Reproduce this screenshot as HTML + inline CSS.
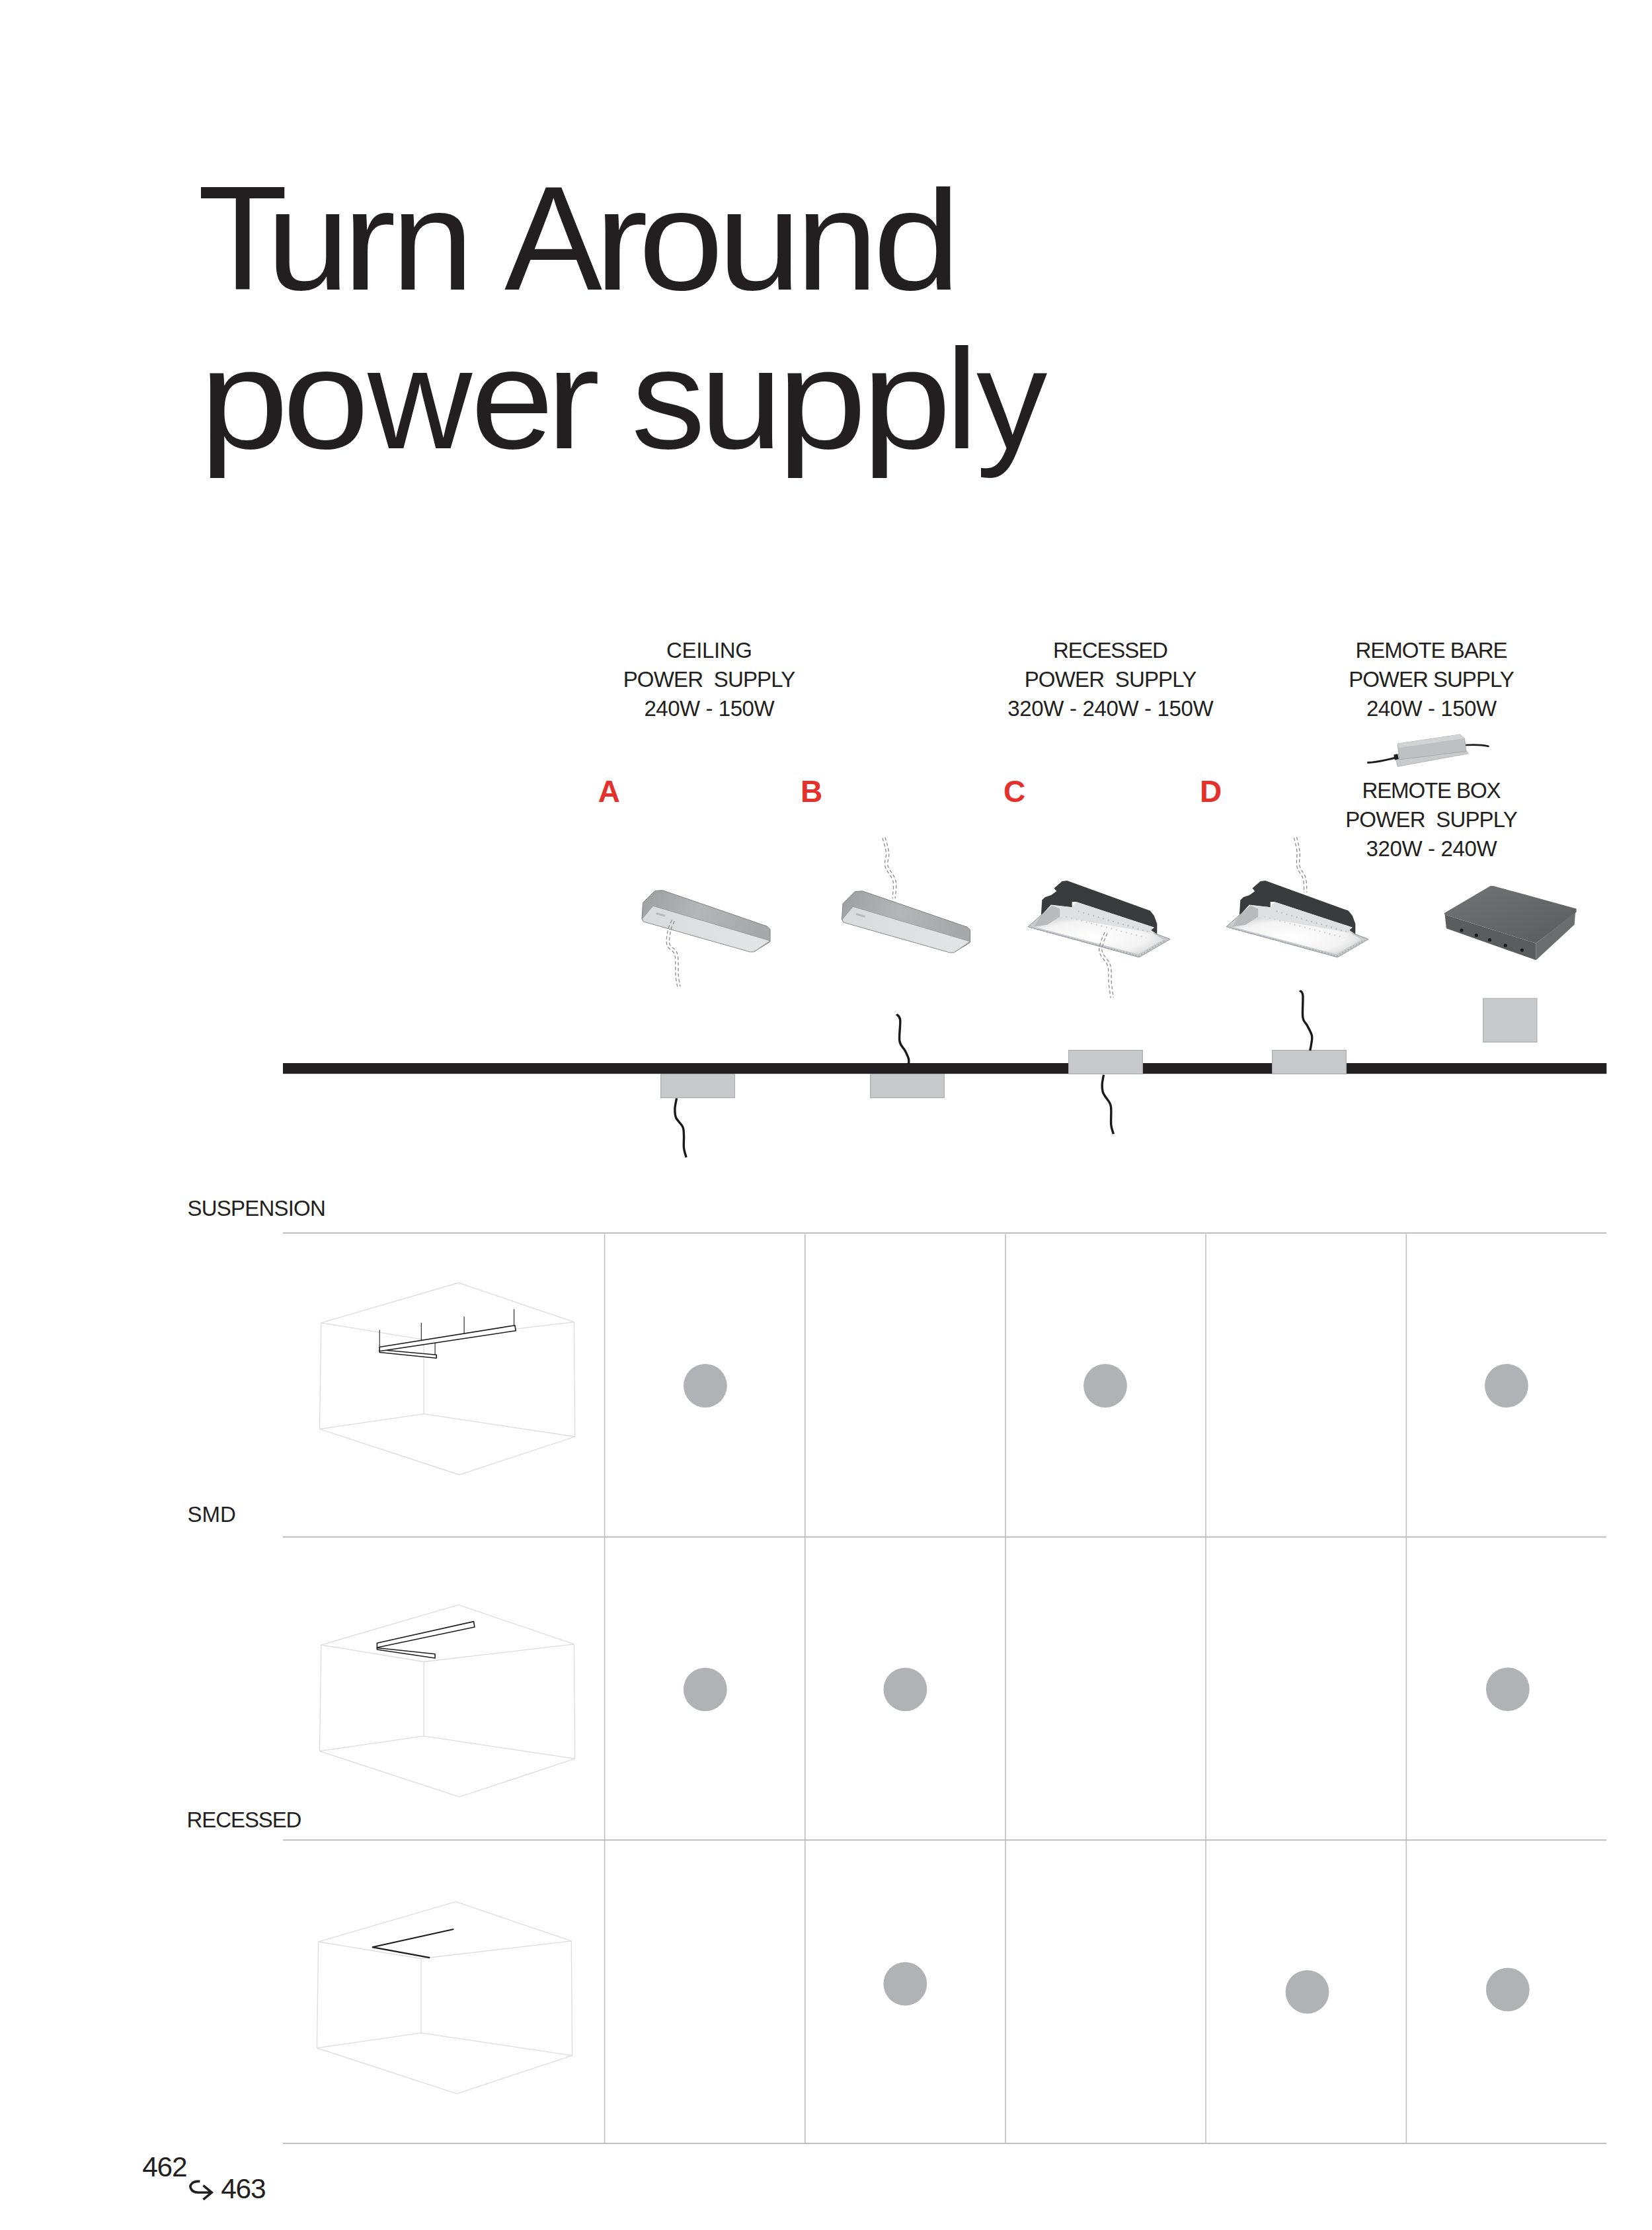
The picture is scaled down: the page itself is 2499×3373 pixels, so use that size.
<!DOCTYPE html>
<html><head><meta charset="utf-8"><style>
html,body{margin:0;padding:0;background:#fff;width:2499px;height:3373px;overflow:hidden;position:relative}
.t{position:absolute;font-family:"Liberation Sans",sans-serif;line-height:1;white-space:nowrap;color:#231f20}
.c{text-align:center}
.r{color:#e4312b;font-weight:bold}
svg{position:absolute;left:0;top:0}
</style></head><body>
<svg width="2499" height="3373" viewBox="0 0 2499 3373">
<rect x="428" y="1864" width="2002" height="2" fill="#bdbec1"/>
<rect x="428" y="2323.7" width="2002" height="2" fill="#bdbec1"/>
<rect x="428" y="2782.2" width="2002" height="2" fill="#bdbec1"/>
<rect x="428" y="3241" width="2002" height="2" fill="#bdbec1"/>
<rect x="913.8000000000001" y="1866.5" width="1.6" height="1375" fill="#bdbec1"/>
<rect x="1217.0" y="1866.5" width="1.6" height="1375" fill="#bdbec1"/>
<rect x="1520.2" y="1866.5" width="1.6" height="1375" fill="#bdbec1"/>
<rect x="1823.2" y="1866.5" width="1.6" height="1375" fill="#bdbec1"/>
<rect x="2126.5" y="1866.5" width="1.6" height="1375" fill="#bdbec1"/>
<circle cx="1066.9" cy="2096" r="32.9" fill="#b1b2b5"/>
<circle cx="1672" cy="2096" r="32.9" fill="#b1b2b5"/>
<circle cx="2278.9" cy="2096" r="32.9" fill="#b1b2b5"/>
<circle cx="1066.8" cy="2555.3" r="32.9" fill="#b1b2b5"/>
<circle cx="1369.4" cy="2555.3" r="32.9" fill="#b1b2b5"/>
<circle cx="2280.8" cy="2555.1" r="32.9" fill="#b1b2b5"/>
<circle cx="1369.3" cy="3000.7" r="32.9" fill="#b1b2b5"/>
<circle cx="1977.5" cy="3012.8" r="32.9" fill="#b1b2b5"/>
<circle cx="2280.8" cy="3009.4" r="32.9" fill="#b1b2b5"/>
<g transform="translate(0,0)"><path d="M485.8,2000.8 L693.7,1940.3 L868.4,1999.6 M485.8,2000.8 L641.1,2026.3 L868.4,1999.6 M485.8,2000.8 L483.5,2161.5 M868.4,1999.6 L869.7,2173 M641.1,2026.3 L641.1,2138.6 M483.5,2161.5 L641.1,2138.6 L869.7,2173 M483.5,2161.5 L695,2230.7 L869.7,2173" fill="none" stroke="#dcdcdc" stroke-width="1.3"/><g stroke="#1e1e1e" stroke-width="1.1"><line x1="574.2" y1="2011.5" x2="574.2" y2="2039"/><line x1="637.3" y1="2000.8" x2="637.3" y2="2030"/><line x1="702.1" y1="1991.2" x2="702.1" y2="2019"/><line x1="777.6" y1="1980.3" x2="777.6" y2="2005.5"/><line x1="658.1" y1="2031.9" x2="658.1" y2="2050"/></g><g fill="#fff" stroke="#1e1e1e" stroke-width="1.6" stroke-linejoin="round"><polygon points="574.2,2041.5 660.2,2049.2 660.2,2054.2 574.2,2045.5"/><polygon points="574.2,2037.5 778.9,2004.7 780.2,2012.8 574.2,2043.8"/></g></g>
<g transform="translate(0,487.2)"><path d="M485.8,2000.8 L693.7,1940.3 L868.4,1999.6 M485.8,2000.8 L641.1,2026.3 L868.4,1999.6 M485.8,2000.8 L483.5,2161.5 M868.4,1999.6 L869.7,2173 M641.1,2026.3 L641.1,2138.6 M483.5,2161.5 L641.1,2138.6 L869.7,2173 M483.5,2161.5 L695,2230.7 L869.7,2173" fill="none" stroke="#dcdcdc" stroke-width="1.3"/><g fill="#fff" stroke="#1e1e1e" stroke-width="1.6" stroke-linejoin="round"><polygon points="570.4,2005.3 658.1,2014.5 658.1,2020.8 570.4,2007.8"/><polygon points="570.4,1998 716.6,1965.4 717.9,1973.8 570.4,2004.8"/></g></g>
<g transform="translate(-4.1,936.2)"><path d="M485.8,2000.8 L693.7,1940.3 L868.4,1999.6 M485.8,2000.8 L641.1,2026.3 L868.4,1999.6 M485.8,2000.8 L483.5,2161.5 M868.4,1999.6 L869.7,2173 M641.1,2026.3 L641.1,2138.6 M483.5,2161.5 L641.1,2138.6 L869.7,2173 M483.5,2161.5 L695,2230.7 L869.7,2173" fill="none" stroke="#dcdcdc" stroke-width="1.3"/><polyline points="690.4,1981.8 567.1,2009 654.3,2025" fill="none" stroke="#1e1e1e" stroke-width="2.2" stroke-linejoin="miter"/></g>
<rect x="428" y="1608" width="2002.3" height="16.2" fill="#222020"/>
<rect x="999.6" y="1624.6" width="111.8" height="35.8" fill="#c8c9cb" stroke="#adaeb1" stroke-width="1.2"/>
<rect x="1316.6" y="1624.6" width="111.8" height="35.8" fill="#c8c9cb" stroke="#adaeb1" stroke-width="1.2"/>
<rect x="1616.6" y="1588.6" width="111.8" height="35.8" fill="#c8c9cb" stroke="#adaeb1" stroke-width="1.2"/>
<rect x="1924.6" y="1588.6" width="111.8" height="35.8" fill="#c8c9cb" stroke="#adaeb1" stroke-width="1.2"/>
<rect x="2243.7" y="1510.1999999999998" width="81.20000000000009" height="66.00000000000004" fill="#c8c9cb" stroke="#adaeb1" stroke-width="1.2"/>
<path d="M1023.6,1661.3 C1023.1,1664.0 1021.0,1672.3 1020.9,1677.2 C1020.8,1682.1 1020.7,1686.3 1022.7,1690.8 C1024.7,1695.3 1030.7,1699.9 1032.7,1704.4 C1034.7,1708.9 1034.2,1712.7 1034.5,1718.0 C1034.8,1723.3 1033.9,1730.8 1034.5,1736.2 C1035.1,1741.7 1037.5,1748.3 1038.1,1750.7" fill="none" stroke="#1a1a1a" stroke-width="3.4" stroke-linecap="butt"/>
<path d="M1356.3,1534.1 C1357.2,1535.5 1361.0,1536.0 1361.7,1542.7 C1362.5,1549.4 1359.6,1566.8 1360.8,1574.5 C1362.0,1582.2 1366.7,1584.5 1369.0,1589.0 C1371.3,1593.5 1373.6,1598.4 1374.5,1601.7 C1375.4,1605.0 1374.5,1607.8 1374.5,1609.0" fill="none" stroke="#1a1a1a" stroke-width="3.4" stroke-linecap="butt"/>
<path d="M1669.5,1625.8 C1669.1,1628.3 1667.3,1636.2 1667.2,1640.8 C1667.1,1645.4 1667.0,1648.8 1669.0,1653.5 C1671.0,1658.2 1677.0,1664.8 1679.0,1669.0 C1681.0,1673.2 1680.5,1673.5 1680.8,1679.0 C1681.1,1684.5 1680.2,1695.7 1680.8,1701.7 C1681.4,1707.8 1683.8,1713.0 1684.4,1715.3" fill="none" stroke="#1a1a1a" stroke-width="3.4" stroke-linecap="butt"/>
<path d="M1966.3,1498.2 C1967.0,1499.4 1970.0,1498.6 1970.8,1505.4 C1971.5,1512.2 1969.7,1531.4 1970.8,1539.0 C1971.9,1546.6 1974.9,1546.2 1977.2,1550.8 C1979.5,1555.3 1983.4,1561.4 1984.4,1566.3 C1985.5,1571.2 1984.0,1576.1 1983.5,1579.9 C1983.0,1583.7 1982.0,1587.5 1981.7,1589.0" fill="none" stroke="#1a1a1a" stroke-width="3.4" stroke-linecap="butt"/>
<defs><linearGradient id="gA" x1="0" y1="0" x2="1" y2="0.3"><stop offset="0" stop-color="#9c9ea0"/><stop offset="0.5" stop-color="#b4b5b6"/><stop offset="1" stop-color="#a7a8aa"/></linearGradient><linearGradient id="gL" x1="0" y1="0" x2="1" y2="0"><stop offset="0" stop-color="#d9dadc"/><stop offset="1" stop-color="#e4e5e6"/></linearGradient><linearGradient id="gBox" x1="0" y1="0" x2="1" y2="1"><stop offset="0" stop-color="#737476"/><stop offset="1" stop-color="#5a5b5d"/></linearGradient><radialGradient id="gW" cx="0.45" cy="0.55" r="0.6"><stop offset="0" stop-color="#ffffff"/><stop offset="0.7" stop-color="#f3f3f3"/><stop offset="1" stop-color="#d6d7d9"/></radialGradient></defs>
<g transform="translate(0,0)"><polygon points="990.7,1347.4 1002.3,1346.7 1160.7,1401.2 1165.0,1405.5 1165.0,1424.4 1140.3,1439.7 1134.5,1439.7 973.2,1393.9 971.0,1389.6 972.5,1365.6" fill="url(#gA)" stroke="#7d8085" stroke-width="1"/><polygon points="971.5,1389.6 987.8,1370.2 1165.0,1423.0 1140.3,1439.7 1134.5,1439.7 973.2,1393.9" fill="url(#gL)" stroke="#8e9196" stroke-width="0.8"/><rect x="993" y="1380" width="14" height="3" fill="#b9b9b9" transform="rotate(16 993 1380)"/></g>
<polyline points="1020.2,1393.3 1019.9,1394.0 1019.5,1394.9 1019.0,1395.9 1018.5,1396.9 1018.0,1398.0 1017.4,1399.3 1016.8,1400.5 1016.3,1401.9 1015.8,1403.2 1015.3,1404.6 1014.9,1406.0 1014.6,1407.4 1014.2,1409.0 1013.9,1410.7 1013.6,1412.5 1013.3,1414.3 1013.0,1416.2 1012.8,1418.1 1012.6,1420.0 1012.5,1421.9 1012.5,1423.7 1012.5,1425.3 1012.7,1426.9 1013.0,1428.2 1013.4,1429.3 1014.0,1430.2 1014.7,1431.1 1015.7,1432.0 1016.7,1432.8 1017.9,1433.8 1019.2,1434.8 1020.5,1435.9 1021.7,1437.3 1022.9,1438.8 1023.9,1440.6 1024.6,1442.7 1025.1,1445.0 1025.5,1447.5 1025.7,1450.3 1025.9,1453.1 1026.0,1456.1 1026.0,1459.1 1026.0,1462.1 1026.0,1465.1 1026.0,1467.9 1026.0,1470.6 1026.1,1473.0 1026.2,1475.1 1026.4,1477.1 1026.6,1479.0 1026.9,1480.8 1027.1,1482.5 1027.4,1484.1 1027.7,1485.6 1028.0,1487.0 1028.3,1488.3 1028.5,1489.5 1028.7,1490.6 1028.9,1491.5 1029.1,1492.3" fill="none" stroke="#8a8a8a" stroke-width="1.3" stroke-dasharray="5 3.5"/><polyline points="1016.4,1391.7 1016.1,1392.3 1015.7,1393.1 1015.3,1394.0 1014.8,1395.1 1014.2,1396.2 1013.6,1397.5 1013.0,1398.9 1012.4,1400.3 1011.8,1401.8 1011.3,1403.4 1010.8,1405.0 1010.4,1406.6 1010.1,1408.2 1009.8,1409.9 1009.4,1411.7 1009.1,1413.7 1008.8,1415.7 1008.6,1417.7 1008.4,1419.7 1008.3,1421.7 1008.3,1423.7 1008.3,1425.7 1008.6,1427.6 1009.0,1429.4 1009.7,1431.1 1010.6,1432.7 1011.7,1434.0 1012.9,1435.1 1014.1,1436.1 1015.3,1437.1 1016.5,1438.0 1017.5,1438.9 1018.5,1440.0 1019.3,1441.1 1020.0,1442.4 1020.6,1443.9 1021.0,1445.8 1021.3,1448.0 1021.6,1450.6 1021.7,1453.3 1021.8,1456.2 1021.8,1459.1 1021.8,1462.1 1021.8,1465.1 1021.8,1467.9 1021.8,1470.6 1021.9,1473.2 1022.0,1475.5 1022.2,1477.5 1022.5,1479.5 1022.7,1481.4 1023.0,1483.2 1023.3,1484.8 1023.6,1486.4 1023.9,1487.8 1024.1,1489.2 1024.4,1490.3 1024.6,1491.4 1024.8,1492.3 1024.9,1493.1" fill="none" stroke="#8a8a8a" stroke-width="1.3" stroke-dasharray="5 3.5"/>
<g transform="translate(302.5,1.1)"><polygon points="990.7,1347.4 1002.3,1346.7 1160.7,1401.2 1165.0,1405.5 1165.0,1424.4 1140.3,1439.7 1134.5,1439.7 973.2,1393.9 971.0,1389.6 972.5,1365.6" fill="url(#gA)" stroke="#7d8085" stroke-width="1"/><polygon points="971.5,1389.6 987.8,1370.2 1165.0,1423.0 1140.3,1439.7 1134.5,1439.7 973.2,1393.9" fill="url(#gL)" stroke="#8e9196" stroke-width="0.8"/><rect x="993" y="1380" width="14" height="3" fill="#b9b9b9" transform="rotate(16 993 1380)"/></g>
<polyline points="1339.0,1266.5 1339.3,1267.6 1339.7,1269.0 1340.2,1270.6 1340.7,1272.5 1341.3,1274.5 1341.9,1276.7 1342.5,1278.9 1343.1,1281.2 1343.6,1283.5 1344.1,1285.7 1344.4,1287.8 1344.7,1289.8 1344.8,1291.8 1344.7,1293.7 1344.5,1295.5 1344.2,1297.2 1343.8,1298.9 1343.5,1300.5 1343.1,1302.0 1342.9,1303.5 1342.7,1305.0 1342.7,1306.5 1342.8,1308.0 1343.0,1309.5 1343.5,1311.0 1344.2,1312.6 1345.2,1314.3 1346.2,1316.1 1347.4,1317.9 1348.7,1319.7 1350.0,1321.6 1351.2,1323.6 1352.4,1325.6 1353.5,1327.7 1354.4,1329.9 1355.0,1332.1 1355.5,1334.5 1355.7,1337.0 1355.7,1339.5 1355.7,1342.2 1355.5,1344.8 1355.3,1347.4 1355.1,1349.9 1354.8,1352.3 1354.6,1354.4 1354.3,1356.3 1354.2,1357.9 1354.1,1359.1" fill="none" stroke="#8a8a8a" stroke-width="1.3" stroke-dasharray="5 3.5"/><polyline points="1335.0,1267.5 1335.3,1268.7 1335.7,1270.1 1336.2,1271.8 1336.7,1273.7 1337.3,1275.7 1337.9,1277.8 1338.5,1280.0 1339.0,1282.2 1339.5,1284.4 1340.0,1286.5 1340.3,1288.4 1340.5,1290.2 1340.6,1291.8 1340.5,1293.3 1340.3,1294.8 1340.0,1296.4 1339.7,1298.0 1339.3,1299.6 1339.0,1301.2 1338.7,1303.0 1338.5,1304.7 1338.5,1306.6 1338.6,1308.5 1339.0,1310.5 1339.6,1312.5 1340.5,1314.5 1341.5,1316.4 1342.7,1318.3 1344.0,1320.2 1345.2,1322.1 1346.5,1323.9 1347.7,1325.8 1348.8,1327.6 1349.7,1329.5 1350.4,1331.3 1351.0,1333.1 1351.3,1335.0 1351.5,1337.2 1351.5,1339.6 1351.5,1342.0 1351.4,1344.5 1351.2,1347.0 1350.9,1349.5 1350.7,1351.8 1350.4,1353.9 1350.2,1355.9 1350.0,1357.5 1349.9,1358.9" fill="none" stroke="#8a8a8a" stroke-width="1.3" stroke-dasharray="5 3.5"/>
<g transform="translate(0,0)"><polygon points="1574.8,1385.1 1576.3,1361.6 1580.9,1357.1 1589.9,1354.0 1598.3,1348.0 1594.5,1343.5 1606.6,1332.9 1614.2,1332.1 1739.8,1377.5 1745.8,1385.1 1750.3,1397.2 1750.3,1413.1 1741.3,1410.8 1741.3,1406.3 1745.8,1403.2 1627.8,1363.9 1621.7,1363.9 1621.7,1372.2 1589.9,1368.4" fill="#3a3b3d"/><polygon points="1555.1,1401.7 1575.6,1383.6 1600.5,1391.1 1750.3,1413.1 1770.0,1420.6 1723.1,1447.9" fill="#c9cbce" stroke="#8d9196" stroke-width="1"/><polygon points="1564.2,1401.7 1583.9,1398.7 1603.6,1386.6 1741.3,1409.3 1759.4,1421.4 1721.6,1443.3" fill="url(#gW)"/><polygon points="1564.2,1401.7 1575.6,1383.6 1591.5,1369.2 1603.6,1374.5 1603.6,1386.6 1583.9,1398.7" fill="#b9babc"/><polygon points="1591.5,1369.2 1621.7,1372.2 1627.8,1363.9 1745.8,1402.5 1741.3,1407.0 1750.3,1413.1 1741.3,1410.8 1603.6,1386.6 1603.6,1374.5" fill="#dfe0e1"/><polyline points="1559.7,1403.5 1722.4,1445.9 1764.0,1421.7" fill="none" stroke="#a3a8ad" stroke-width="2" stroke-dasharray="1.6 3.2"/><polyline points="1630.8,1378.3 1736.7,1409.3" fill="none" stroke="#b5b7b9" stroke-width="2.2" stroke-dasharray="1.8 6"/><polyline points="1612.6,1386.6 1733.7,1418.4" fill="none" stroke="#c9cacb" stroke-width="2" stroke-dasharray="1.8 6"/></g>
<polyline points="1675.1,1411.6 1674.8,1412.4 1674.4,1413.3 1673.9,1414.4 1673.3,1415.6 1672.7,1416.9 1672.1,1418.3 1671.5,1419.7 1670.9,1421.2 1670.3,1422.6 1669.8,1424.0 1669.4,1425.3 1669.0,1426.6 1668.7,1427.8 1668.4,1429.0 1668.0,1430.2 1667.7,1431.4 1667.4,1432.5 1667.2,1433.6 1667.1,1434.7 1667.0,1435.7 1667.0,1436.8 1667.1,1438.0 1667.3,1439.1 1667.6,1440.3 1668.1,1441.6 1668.8,1442.9 1669.7,1444.3 1670.7,1445.7 1671.9,1447.3 1673.1,1448.9 1674.4,1450.6 1675.7,1452.3 1676.9,1454.1 1678.0,1456.0 1679.0,1458.0 1679.7,1460.1 1680.2,1462.2 1680.6,1464.4 1680.9,1466.6 1681.0,1468.9 1681.1,1471.1 1681.1,1473.4 1681.1,1475.7 1681.1,1477.9 1681.1,1480.1 1681.1,1482.3 1681.1,1484.3 1681.3,1486.3 1681.5,1488.3 1681.7,1490.5 1682.0,1492.7 1682.3,1494.9 1682.6,1497.0 1682.9,1499.2 1683.2,1501.2 1683.5,1503.1 1683.8,1504.9 1684.0,1506.5 1684.2,1507.8 1684.4,1508.9" fill="none" stroke="#8a8a8a" stroke-width="1.3" stroke-dasharray="5 3.5"/><polyline points="1671.3,1410.0 1671.0,1410.7 1670.6,1411.6 1670.1,1412.7 1669.5,1413.9 1668.9,1415.2 1668.3,1416.6 1667.6,1418.1 1667.0,1419.6 1666.4,1421.1 1665.8,1422.6 1665.4,1424.1 1665.0,1425.4 1664.6,1426.7 1664.3,1427.9 1664.0,1429.1 1663.6,1430.3 1663.3,1431.6 1663.1,1432.9 1662.9,1434.2 1662.8,1435.6 1662.8,1437.0 1662.9,1438.5 1663.2,1440.0 1663.6,1441.7 1664.3,1443.3 1665.1,1445.0 1666.2,1446.6 1667.3,1448.2 1668.6,1449.8 1669.8,1451.5 1671.0,1453.1 1672.2,1454.7 1673.3,1456.3 1674.3,1458.0 1675.1,1459.6 1675.7,1461.3 1676.1,1463.1 1676.5,1465.0 1676.7,1467.0 1676.8,1469.1 1676.9,1471.2 1676.9,1473.4 1676.9,1475.6 1676.9,1477.9 1676.9,1480.1 1676.9,1482.4 1677.0,1484.5 1677.1,1486.7 1677.3,1488.8 1677.6,1491.0 1677.9,1493.2 1678.1,1495.4 1678.5,1497.6 1678.8,1499.8 1679.1,1501.8 1679.4,1503.7 1679.6,1505.5 1679.9,1507.1 1680.1,1508.4 1680.2,1509.5" fill="none" stroke="#8a8a8a" stroke-width="1.3" stroke-dasharray="5 3.5"/>
<g transform="translate(300,0)"><polygon points="1574.8,1385.1 1576.3,1361.6 1580.9,1357.1 1589.9,1354.0 1598.3,1348.0 1594.5,1343.5 1606.6,1332.9 1614.2,1332.1 1739.8,1377.5 1745.8,1385.1 1750.3,1397.2 1750.3,1413.1 1741.3,1410.8 1741.3,1406.3 1745.8,1403.2 1627.8,1363.9 1621.7,1363.9 1621.7,1372.2 1589.9,1368.4" fill="#3a3b3d"/><polygon points="1555.1,1401.7 1575.6,1383.6 1600.5,1391.1 1750.3,1413.1 1770.0,1420.6 1723.1,1447.9" fill="#c9cbce" stroke="#8d9196" stroke-width="1"/><polygon points="1564.2,1401.7 1583.9,1398.7 1603.6,1386.6 1741.3,1409.3 1759.4,1421.4 1721.6,1443.3" fill="url(#gW)"/><polygon points="1564.2,1401.7 1575.6,1383.6 1591.5,1369.2 1603.6,1374.5 1603.6,1386.6 1583.9,1398.7" fill="#b9babc"/><polygon points="1591.5,1369.2 1621.7,1372.2 1627.8,1363.9 1745.8,1402.5 1741.3,1407.0 1750.3,1413.1 1741.3,1410.8 1603.6,1386.6 1603.6,1374.5" fill="#dfe0e1"/><polyline points="1559.7,1403.5 1722.4,1445.9 1764.0,1421.7" fill="none" stroke="#a3a8ad" stroke-width="2" stroke-dasharray="1.6 3.2"/><polyline points="1630.8,1378.3 1736.7,1409.3" fill="none" stroke="#b5b7b9" stroke-width="2.2" stroke-dasharray="1.8 6"/><polyline points="1612.6,1386.6 1733.7,1418.4" fill="none" stroke="#c9cacb" stroke-width="2" stroke-dasharray="1.8 6"/></g>
<polyline points="1961.5,1266.1 1961.8,1267.1 1962.1,1268.4 1962.5,1269.9 1962.9,1271.5 1963.3,1273.4 1963.8,1275.3 1964.3,1277.3 1964.7,1279.4 1965.1,1281.5 1965.5,1283.6 1965.8,1285.6 1966.1,1287.6 1966.2,1289.6 1966.3,1291.6 1966.2,1293.6 1966.1,1295.6 1965.9,1297.5 1965.8,1299.5 1965.7,1301.4 1965.6,1303.3 1965.6,1305.1 1965.6,1306.8 1965.8,1308.5 1966.0,1310.0 1966.5,1311.5 1967.0,1312.9 1967.7,1314.3 1968.5,1315.7 1969.3,1317.1 1970.3,1318.5 1971.2,1320.0 1972.2,1321.5 1973.1,1323.0 1973.9,1324.6 1974.6,1326.3 1975.2,1328.1 1975.7,1330.0 1976.0,1332.0 1976.2,1334.1 1976.4,1336.2 1976.5,1338.3 1976.6,1340.4 1976.7,1342.4 1976.7,1344.3 1976.7,1346.0 1976.7,1347.5 1976.8,1348.8 1976.8,1349.8" fill="none" stroke="#8a8a8a" stroke-width="1.3" stroke-dasharray="5 3.5"/><polyline points="1957.5,1267.1 1957.7,1268.1 1958.0,1269.4 1958.4,1270.9 1958.8,1272.5 1959.2,1274.4 1959.7,1276.3 1960.2,1278.2 1960.6,1280.3 1961.0,1282.3 1961.4,1284.3 1961.7,1286.2 1961.9,1288.0 1962.0,1289.7 1962.1,1291.5 1962.0,1293.4 1961.9,1295.3 1961.8,1297.2 1961.6,1299.2 1961.5,1301.2 1961.4,1303.1 1961.4,1305.1 1961.4,1307.1 1961.6,1309.0 1962.0,1311.0 1962.5,1312.8 1963.2,1314.6 1964.0,1316.3 1964.9,1317.9 1965.8,1319.4 1966.7,1320.8 1967.7,1322.3 1968.6,1323.7 1969.4,1325.1 1970.1,1326.4 1970.7,1327.8 1971.2,1329.3 1971.5,1330.8 1971.8,1332.6 1972.1,1334.5 1972.2,1336.5 1972.3,1338.5 1972.4,1340.5 1972.5,1342.5 1972.5,1344.3 1972.5,1346.0 1972.5,1347.6 1972.6,1348.9 1972.6,1350.0" fill="none" stroke="#8a8a8a" stroke-width="1.3" stroke-dasharray="5 3.5"/>
<polygon points="2184.5,1381.3 2254.6,1340 2259.2,1340 2384.6,1374.4 2384.6,1379.6 2323.6,1426.8 2185.6,1383.6" fill="url(#gBox)"/>
<polygon points="2185.6,1383.6 2323.6,1426.8 2323.6,1452.3 2187.9,1404.3" fill="#5b5c5e"/>
<polygon points="2323.6,1426.8 2383.1,1379.6 2381.7,1398.5 2323.6,1452.3" fill="#6c6d6f"/>
<circle cx="2211" cy="1407" r="2.6" fill="#1c1c1c"/>
<circle cx="2233.3" cy="1414.7" r="2.6" fill="#1c1c1c"/>
<circle cx="2253.5" cy="1421.6" r="2.6" fill="#1c1c1c"/>
<circle cx="2277.2" cy="1430" r="2.6" fill="#1c1c1c"/>
<circle cx="2302.3" cy="1437" r="2.6" fill="#1c1c1c"/>
<path d="M2068.3,1153.6 C2085,1153 2098,1149 2112,1146" fill="none" stroke="#1c1c1c" stroke-width="3"/>
<path d="M2217,1127 C2232,1126 2244,1127 2252.5,1128.9" fill="none" stroke="#1c1c1c" stroke-width="2.6"/>
<polygon points="2109.7,1141 2217.8,1135.2 2221.3,1139.8 2114.3,1159.4" fill="#c9cacc" stroke="#a9abae" stroke-width="0.8"/>
<polygon points="2114.3,1124.9 2208.6,1111 2215.5,1116.8 2217.8,1136.4 2116.6,1149" fill="#bfc0c2" stroke="#a0a2a5" stroke-width="0.8"/>
<polygon points="2114.3,1124.9 2208.6,1111 2215.5,1116.8 2116,1131" fill="#d2d3d4"/>
<rect x="2109" y="1141" width="6" height="8" fill="#1c1c1c" transform="rotate(-12 2112 1145)"/>
<path d="M302.4,3299.5 C290,3298.5 286.5,3306 288.6,3310 C290.5,3315 295,3316.3 300,3316.3 L319.5,3316.3 M307.5,3305.7 L320.3,3316.3 L307.5,3326.8" fill="none" stroke="#231f20" stroke-width="3.6" stroke-linejoin="miter"/>
</svg>
<div class="t" style="left:298.8px;top:247.9px;font-size:225px;transform:scale(0.992,1.0);transform-origin:5px 85%">T</div>
<div class="t" style="left:402.8px;top:247.9px;font-size:225px;transform:scale(1.006,0.96);transform-origin:15px 85%">u</div>
<div class="t" style="left:519.4px;top:247.9px;font-size:225px;transform:scale(1.084,0.96);transform-origin:15px 85%">r</div>
<div class="t" style="left:591.7px;top:247.9px;font-size:225px;transform:scale(0.995,0.96);transform-origin:15px 85%">n</div>
<div class="t" style="left:763.0px;top:247.9px;font-size:225px;transform:scale(0.986,1.0);transform-origin:1px 85%">A</div>
<div class="t" style="left:900.4px;top:247.9px;font-size:225px;transform:scale(1.089,0.96);transform-origin:15px 85%">r</div>
<div class="t" style="left:966.3px;top:247.9px;font-size:225px;transform:scale(1.028,0.96);transform-origin:9px 85%">o</div>
<div class="t" style="left:1086.3px;top:247.9px;font-size:225px;transform:scale(1.005,0.96);transform-origin:15px 85%">u</div>
<div class="t" style="left:1203.6px;top:247.9px;font-size:225px;transform:scale(0.992,0.96);transform-origin:15px 85%">n</div>
<div class="t" style="left:1321.1px;top:247.9px;font-size:225px;transform:scale(1.062,0.96);transform-origin:9px 85%">d</div>
<div class="t" style="left:303.2px;top:488.0px;font-size:225px;transform:scale(1.078,0.96);transform-origin:15px 85%">p</div>
<div class="t" style="left:428.3px;top:488.0px;font-size:225px;transform:scale(1.046,0.96);transform-origin:9px 85%">o</div>
<div class="t" style="left:556.0px;top:488.0px;font-size:225px;transform:scale(0.974,0.96);transform-origin:0px 85%">w</div>
<div class="t" style="left:712.0px;top:488.0px;font-size:225px;transform:scale(1.004,0.96);transform-origin:10px 85%">e</div>
<div class="t" style="left:826.9px;top:488.0px;font-size:225px;transform:scale(1.098,0.96);transform-origin:15px 85%">r</div>
<div class="t" style="left:955.4px;top:488.0px;font-size:225px;transform:scale(0.995,0.96);transform-origin:6px 85%">s</div>
<div class="t" style="left:1058.7px;top:488.0px;font-size:225px;transform:scale(0.995,0.96);transform-origin:15px 85%">u</div>
<div class="t" style="left:1177.4px;top:488.0px;font-size:225px;transform:scale(1.082,0.96);transform-origin:15px 85%">p</div>
<div class="t" style="left:1304.5px;top:488.0px;font-size:225px;transform:scale(1.082,0.96);transform-origin:15px 85%">p</div>
<div class="t" style="left:1430.3px;top:488.0px;font-size:225px;transform:scale(0.975,0.96);transform-origin:15px 85%">l</div>
<div class="t" style="left:1477.4px;top:488.0px;font-size:225px;transform:scale(0.954,0.96);transform-origin:1px 85%">y</div>
<div class="t c" style="left:773px;top:967.02px;width:600px;font-size:33px;letter-spacing:-0.35px;text-indent:-0.35px">CEILING</div>
<div class="t c" style="left:773px;top:1011.02px;width:600px;font-size:33px;letter-spacing:-0.85px;text-indent:-0.85px">POWER&nbsp; SUPPLY</div>
<div class="t c" style="left:773px;top:1054.6200000000001px;width:600px;font-size:33px;letter-spacing:-0.45px;text-indent:-0.45px">240W - 150W</div>
<div class="t c" style="left:1380px;top:967.02px;width:600px;font-size:33px;letter-spacing:-1.1px;text-indent:-1.1px">RECESSED</div>
<div class="t c" style="left:1380px;top:1011.02px;width:600px;font-size:33px;letter-spacing:-0.85px;text-indent:-0.85px">POWER&nbsp; SUPPLY</div>
<div class="t c" style="left:1380px;top:1054.6200000000001px;width:600px;font-size:33px;letter-spacing:-0.35px;text-indent:-0.35px">320W - 240W - 150W</div>
<div class="t c" style="left:1865.5px;top:967.02px;width:600px;font-size:33px;letter-spacing:-1.0px;text-indent:-1.0px">REMOTE BARE</div>
<div class="t c" style="left:1865.5px;top:1011.02px;width:600px;font-size:33px;letter-spacing:-1.0px;text-indent:-1.0px">POWER SUPPLY</div>
<div class="t c" style="left:1865.5px;top:1054.6200000000001px;width:600px;font-size:33px;letter-spacing:-0.45px;text-indent:-0.45px">240W - 150W</div>
<div class="t c" style="left:1865.5px;top:1178.6200000000001px;width:600px;font-size:33px;letter-spacing:-1.1px;text-indent:-1.1px">REMOTE BOX</div>
<div class="t c" style="left:1865.5px;top:1222.82px;width:600px;font-size:33px;letter-spacing:-0.85px;text-indent:-0.85px">POWER&nbsp; SUPPLY</div>
<div class="t c" style="left:1865.5px;top:1267.1200000000001px;width:600px;font-size:33px;letter-spacing:-0.35px;text-indent:-0.35px">320W - 240W</div>
<div class="t r" style="left:904.8px;top:1174.2px;font-size:46px">A</div>
<div class="t r" style="left:1210.9px;top:1174.2px;font-size:46px">B</div>
<div class="t r" style="left:1517.9px;top:1174.2px;font-size:46px">C</div>
<div class="t r" style="left:1814.9px;top:1174.2px;font-size:46px">D</div>
<div class="t" style="left:283.6px;top:1810.6200000000001px;font-size:33px;letter-spacing:-0.8px;">SUSPENSION</div>
<div class="t" style="left:283.5px;top:2274.22px;font-size:33px;letter-spacing:0px;">SMD</div>
<div class="t" style="left:282.6px;top:2736.22px;font-size:33px;letter-spacing:-1.1px;">RECESSED</div>
<div class="t" style="left:215.2px;top:3256.825px;font-size:42.5px;letter-spacing:-1.2px;">462</div>
<div class="t" style="left:334.2px;top:3289.725px;font-size:42.5px;letter-spacing:-1.2px;">463</div>
</body></html>
